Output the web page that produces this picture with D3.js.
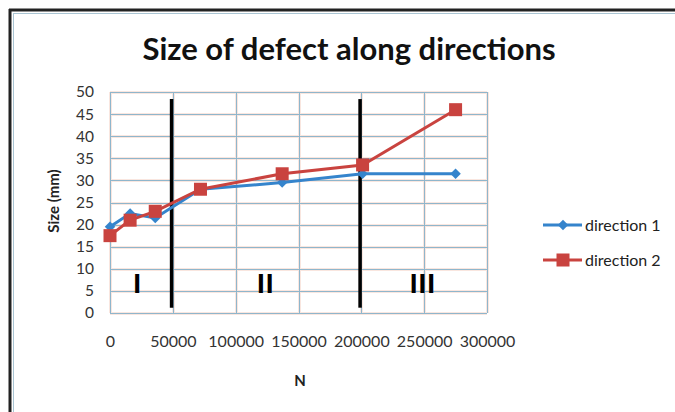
<!DOCTYPE html>
<html><head><meta charset="utf-8">
<script src="https://cdn.jsdelivr.net/npm/d3@7"></script>
<style>html,body{margin:0;padding:0;background:#fff;}svg{display:block;}</style>
</head><body>
<svg id="c" width="675" height="412"></svg>
<script>
const title = "Size of defect along directions";
const xTicks = [0, 50000, 100000, 150000, 200000, 250000, 300000];
const yTicks = [0, 5, 10, 15, 20, 25, 30, 35, 40, 45, 50];
const nValues = [0, 16000, 36000, 72000, 137000, 201000, 275000];
const direction1 = [19.5, 22.5, 21.5, 28, 29.5, 31.5, 31.5];
const direction2 = [17.5, 21, 23, 28, 31.5, 33.5, 46];
const seriesNames = ["direction 1", "direction 2"];
const dividerN = [49000, 199000];
const dividerRange = [1.2, 48.4];
const regionLabels = ["I", "II", "III"];
const regionN = [22000, 124000, 249000];
const regionY = 4.5;

const svg = d3.select("#c");
const font = "Lato, 'Open Sans', sans-serif";
const blue = "#3584cc", red = "#c9433f";

// outer frame
svg.append("line").attr("x1", 9).attr("y1", 10).attr("x2", 675).attr("y2", 10).attr("stroke", "#222").attr("stroke-width", 3);
svg.append("line").attr("x1", 10).attr("y1", 9).attr("x2", 10).attr("y2", 412).attr("stroke", "#222").attr("stroke-width", 3);
svg.append("line").attr("x1", 13).attr("y1", 13.5).attr("x2", 675).attr("y2", 13.5).attr("stroke", "#a9c4d2").attr("stroke-width", 1);
svg.append("line").attr("x1", 13.5).attr("y1", 13).attr("x2", 13.5).attr("y2", 412).attr("stroke", "#a9c4d2").attr("stroke-width", 1);

const x = d3.scaleLinear().domain([0, 300000]).range([110, 487]);
const y = d3.scaleLinear().domain([0, 50]).range([313, 92]);

// grid (pink halo + blue line)
const g = svg.append("g");
[["#f9e6df", 3], ["#8fb6cc", 1]].forEach(([c, w]) => {
  g.append("g").selectAll("line").data(yTicks).join("line")
    .attr("x1", x(0)).attr("x2", x(300000))
    .attr("y1", d => Math.round(y(d)) + 0.5).attr("y2", d => Math.round(y(d)) + 0.5)
    .attr("stroke", c).attr("stroke-width", w);
  g.append("g").selectAll("line").data(xTicks).join("line")
    .attr("y1", y(0)).attr("y2", y(50))
    .attr("x1", d => Math.round(x(d)) + 0.5).attr("x2", d => Math.round(x(d)) + 0.5)
    .attr("stroke", c).attr("stroke-width", w);
});

// axes labels
const yAxis = d3.axisLeft(y).tickValues(yTicks).tickSize(0).tickPadding(0);
const ya = svg.append("g").attr("transform", "translate(94,0)").call(yAxis);
ya.select(".domain").remove();
ya.selectAll("text").attr("font-family", font).attr("font-size", 15.5).attr("fill", "#333");

const xAxis = d3.axisBottom(x).tickValues(xTicks).tickSize(0).tickPadding(0).tickFormat(d3.format("d"));
const xa = svg.append("g").attr("transform", "translate(0,336)").call(xAxis);
xa.select(".domain").remove();
xa.selectAll("text").attr("font-family", font).attr("font-size", 16).attr("fill", "#333");

svg.append("text").attr("x", 300).attr("y", 386).attr("text-anchor", "middle")
  .attr("font-family", font).attr("font-weight", "bold").attr("font-size", 15).attr("fill", "#222").text("N");
svg.append("text").attr("transform", "translate(59,201) rotate(-90)").attr("text-anchor", "middle")
  .attr("font-family", font).attr("font-weight", "bold").attr("font-size", 15).attr("fill", "#222").text("Size (mm)");

svg.append("text").attr("x", 349).attr("y", 60).attr("text-anchor", "middle")
  .attr("font-family", font).attr("font-weight", "bold").attr("font-size", 31).attr("fill", "#111").text(title);

// dividers
svg.append("g").selectAll("line").data(dividerN).join("line")
  .attr("x1", d => x(d)).attr("x2", d => x(d))
  .attr("y1", y(dividerRange[0])).attr("y2", y(dividerRange[1]))
  .attr("stroke", "#000").attr("stroke-width", 3.5);

svg.append("g").selectAll("text").data(regionLabels).join("text")
  .attr("x", (d, i) => x(regionN[i])).attr("y", y(regionY)).attr("text-anchor", "middle")
  .attr("font-family", "'Liberation Sans', Arial, sans-serif").attr("font-weight", "bold")
  .attr("font-size", 28).attr("letter-spacing", 1).attr("fill", "#000").text(d => d);

// series
const line = d3.line().x(d => x(d[0])).y(d => y(d[1]));
const d1 = nValues.map((n, i) => [n, direction1[i]]);
const d2 = nValues.map((n, i) => [n, direction2[i]]);
const diamond = d3.symbol().type(d3.symbolDiamond2).size(70);
svg.append("path").datum(d1).attr("d", line).attr("fill", "none").attr("stroke", blue).attr("stroke-width", 3);
svg.append("g").selectAll("path").data(d1).join("path")
  .attr("transform", d => `translate(${x(d[0])},${y(d[1])})`).attr("d", diamond).attr("fill", blue);
svg.append("path").datum(d2).attr("d", line).attr("fill", "none").attr("stroke", red).attr("stroke-width", 3);
svg.append("g").selectAll("rect").data(d2).join("rect")
  .attr("x", d => x(d[0]) - 6.5).attr("y", d => y(d[1]) - 6.5).attr("width", 13).attr("height", 13).attr("fill", red);

// legend
const leg = svg.append("g");
[[blue, 225], [red, 260]].forEach(([c, ly], i) => {
  leg.append("line").attr("x1", 543).attr("x2", 582).attr("y1", ly).attr("y2", ly).attr("stroke", c).attr("stroke-width", 3);
  if (i === 0) leg.append("path").attr("transform", `translate(563,${ly})`).attr("d", diamond).attr("fill", c);
  else leg.append("rect").attr("x", 563 - 6.5).attr("y", ly - 6.5).attr("width", 13).attr("height", 13).attr("fill", c);
  leg.append("text").attr("x", 585).attr("y", ly).attr("dy", "0.35em").attr("font-family", font).attr("font-size", 16)
    .attr("fill", "#222").text(seriesNames[i]);
});
</script>
</body></html>
